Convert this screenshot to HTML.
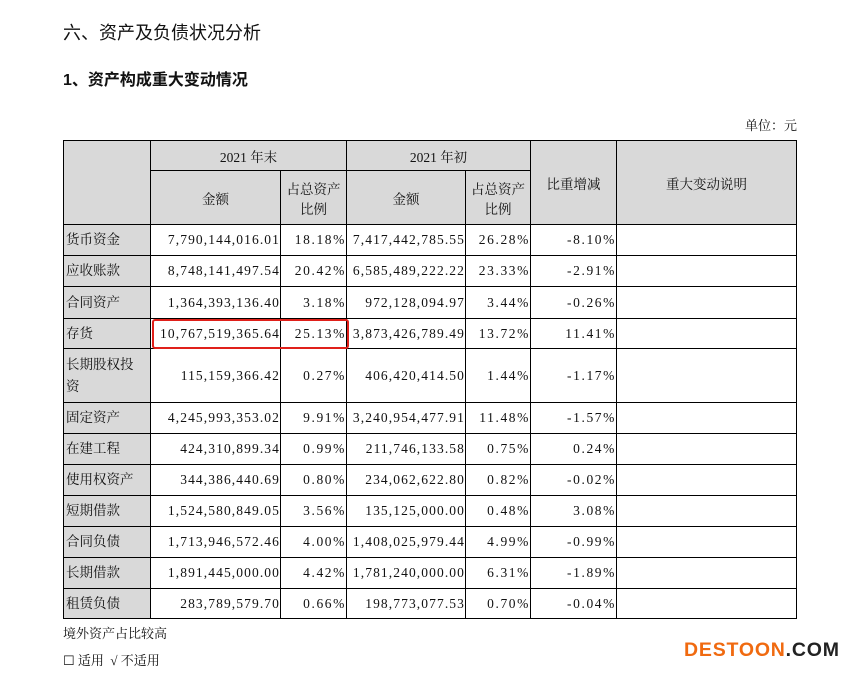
<!DOCTYPE html>
<html><head><meta charset="utf-8"><style>
body{margin:0;width:856px;height:673px;background:#fff;position:relative;overflow:hidden;font-family:"Liberation Serif","Noto Serif CJK SC",serif;color:#111}
.t1{position:absolute;left:63px;top:19px;font-size:18px;font-family:"Liberation Sans","Noto Sans CJK SC",sans-serif}
.t2{position:absolute;left:63px;top:66px;font-size:16px;font-weight:bold;font-family:"Liberation Sans","Noto Sans CJK SC",sans-serif}
.unit{position:absolute;left:745px;top:115px;font-size:13px}
table{position:absolute;left:63px;top:140px;width:733px;border-collapse:collapse;table-layout:fixed;font-size:13.5px}
td{border:1px solid #000;padding:0 2px;white-space:nowrap;overflow:hidden}
.h{background:#d9d9d9;text-align:center}
.n{text-align:right;letter-spacing:1.1px;padding-right:0}
.p{letter-spacing:1.6px}
.l{background:#d9d9d9;text-align:left;line-height:22px}
.box{position:absolute;left:152px;top:319px;width:193px;height:26px;border:2px solid #e0201a;border-radius:3px}
.f1{position:absolute;left:63px;top:623px;font-size:13px}
.f2{position:absolute;left:63px;top:650px;font-size:13px}
.logo{position:absolute;left:684px;top:639px;font:bold 19.5px "Liberation Sans",sans-serif;color:#f06a10;letter-spacing:0.8px}
.logo span{color:#222}
</style></head><body>
<div class="t1">六、资产及负债状况分析</div>
<div class="t2">1、资产构成重大变动情况</div>
<div class="unit">单位：元</div>
<table>
<colgroup><col style="width:87px"><col style="width:130px"><col style="width:66px"><col style="width:119px"><col style="width:65px"><col style="width:86px"><col style="width:180px"></colgroup>
<tr style="height:30px"><td class="h" rowspan="2"></td><td class="h" colspan="2">2021 年末</td><td class="h" colspan="2">2021 年初</td><td class="h" rowspan="2">比重增减</td><td class="h" rowspan="2">重大变动说明</td></tr>
<tr style="height:54px"><td class="h">金额</td><td class="h">占总资产<br>比例</td><td class="h">金额</td><td class="h">占总资产<br>比例</td></tr>
<tr style="height:31px"><td class="l">货币资金</td><td class="n">7,790,144,016.01</td><td class="n p">18.18%</td><td class="n">7,417,442,785.55</td><td class="n p">26.28%</td><td class="n p">-8.10%</td><td></td></tr>
<tr style="height:31px"><td class="l">应收账款</td><td class="n">8,748,141,497.54</td><td class="n p">20.42%</td><td class="n">6,585,489,222.22</td><td class="n p">23.33%</td><td class="n p">-2.91%</td><td></td></tr>
<tr style="height:32px"><td class="l">合同资产</td><td class="n">1,364,393,136.40</td><td class="n p">3.18%</td><td class="n">972,128,094.97</td><td class="n p">3.44%</td><td class="n p">-0.26%</td><td></td></tr>
<tr style="height:30px"><td class="l">存货</td><td class="n">10,767,519,365.64</td><td class="n p">25.13%</td><td class="n">3,873,426,789.49</td><td class="n p">13.72%</td><td class="n p">11.41%</td><td></td></tr>
<tr style="height:54px"><td class="l">长期股权投<br>资</td><td class="n">115,159,366.42</td><td class="n p">0.27%</td><td class="n">406,420,414.50</td><td class="n p">1.44%</td><td class="n p">-1.17%</td><td></td></tr>
<tr style="height:31px"><td class="l">固定资产</td><td class="n">4,245,993,353.02</td><td class="n p">9.91%</td><td class="n">3,240,954,477.91</td><td class="n p">11.48%</td><td class="n p">-1.57%</td><td></td></tr>
<tr style="height:31px"><td class="l">在建工程</td><td class="n">424,310,899.34</td><td class="n p">0.99%</td><td class="n">211,746,133.58</td><td class="n p">0.75%</td><td class="n p">0.24%</td><td></td></tr>
<tr style="height:31px"><td class="l">使用权资产</td><td class="n">344,386,440.69</td><td class="n p">0.80%</td><td class="n">234,062,622.80</td><td class="n p">0.82%</td><td class="n p">-0.02%</td><td></td></tr>
<tr style="height:31px"><td class="l">短期借款</td><td class="n">1,524,580,849.05</td><td class="n p">3.56%</td><td class="n">135,125,000.00</td><td class="n p">0.48%</td><td class="n p">3.08%</td><td></td></tr>
<tr style="height:31px"><td class="l">合同负债</td><td class="n">1,713,946,572.46</td><td class="n p">4.00%</td><td class="n">1,408,025,979.44</td><td class="n p">4.99%</td><td class="n p">-0.99%</td><td></td></tr>
<tr style="height:31px"><td class="l">长期借款</td><td class="n">1,891,445,000.00</td><td class="n p">4.42%</td><td class="n">1,781,240,000.00</td><td class="n p">6.31%</td><td class="n p">-1.89%</td><td></td></tr>
<tr style="height:30px"><td class="l">租赁负债</td><td class="n">283,789,579.70</td><td class="n p">0.66%</td><td class="n">198,773,077.53</td><td class="n p">0.70%</td><td class="n p">-0.04%</td><td></td></tr>
</table>
<div class="box"></div>
<div class="f1">境外资产占比较高</div>
<div class="f2">☐ 适用 &nbsp;√ 不适用</div>
<div class="logo">DESTOON<span>.COM</span></div>
</body></html>
